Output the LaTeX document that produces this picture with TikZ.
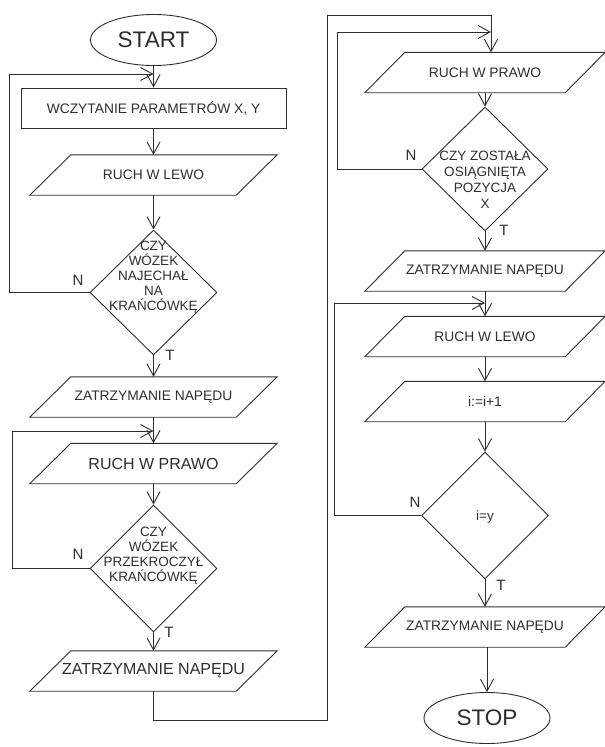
\documentclass[tikz,border=0pt]{standalone}
\usepackage{fontspec}
\setmainfont{Liberation Sans}
\usetikzlibrary{arrows.meta,shapes.geometric}
\definecolor{ink}{RGB}{45,45,45}
% outline of an input/output block drawn around a rectangle node
\newcommand\ioframe[2]{\draw[wire] ([xshift=#2]#1.north west) -- ([xshift=#2]#1.north east)
  -- ([xshift=-#2]#1.south east) -- ([xshift=-#2]#1.south west) -- cycle;}
\begin{document}
\begin{tikzpicture}[x=1pt,y=-1pt,
  wire/.style={draw=ink,line width=0.9pt},
  arr/.style={wire,-{Straight Barb[length=12pt,width=13pt]}},
  term/.style={ellipse,wire,minimum width=126pt,minimum height=51pt,inner sep=0pt,
    text=ink,font=\fontsize{22.5}{26}\selectfont},
  proc/.style={rectangle,wire,minimum width=265pt,minimum height=40pt,inner sep=0pt,
    text=ink,font=\fontsize{13.8}{16}\selectfont},
  io/.style={rectangle,minimum height=40pt,inner sep=0pt,text=ink,
    font=\fontsize{13.8}{16}\selectfont},
  iol/.style={io,minimum width=206pt},
  ior/.style={io,minimum width=200pt},
  big/.style={font=\fontsize{16}{19}\selectfont},
  dec/.style={diamond,wire,minimum width=127pt,minimum height=125pt,inner sep=0pt},
  dtext/.style={align=center,text=ink,inner sep=0pt,font=\fontsize{13.5}{15}\selectfont},
  lbl/.style={text=ink,inner sep=0pt,font=\fontsize{15}{18}\selectfont}]
\useasboundingbox (0,0) rectangle (605,747);

% ---- left column
\node[term] (start) at (153.5,40) {START};
\node[proc] (r1) at (153.5,108) {WCZYTANIE PARAMETRÓW X, Y};
\node[iol] (p1) at (153.5,175) {RUCH W LEWO}; \ioframe{p1}{20.5pt}
\node[dec] (d1) at (153.5,292.5) {};
\node[dtext] (d1t) at ([yshift=15pt]d1.center) {CZY\\WÓZEK\\NAJECHAŁ\\NA\\KRAŃCÓWKĘ};
\node[iol] (p2) at (153.5,397) {ZATRZYMANIE NAPĘDU}; \ioframe{p2}{20.5pt}
\node[iol,big] (p3) at (153.5,463.5) {RUCH W PRAWO}; \ioframe{p3}{20.5pt}
\node[dec,minimum height=127pt] (d2) at (153.5,568.5) {};
\node[dtext] (d2t) at ([yshift=13pt]d2.center) {CZY\\WÓZEK\\PRZEKROCZYŁ\\KRAŃCÓWKĘ};
\node[iol,big] (p4) at (153.5,671) {ZATRZYMANIE NAPĘDU}; \ioframe{p4}{20.5pt}

% ---- right column
\node[ior] (q1) at (485,72.5) {RUCH W PRAWO}; \ioframe{q1}{20pt}
\node[dec,minimum width=126pt,minimum height=124pt] (d3) at (485,169) {};
\node[dtext,font=\fontsize{13.5}{16}\selectfont] (d3t) at ([yshift=-11pt]d3.center)
  {CZY ZOSTAŁA\\OSIĄGNIĘTA\\POZYCJA\\X};
\node[ior] (q2) at (485,271) {ZATRZYMANIE NAPĘDU}; \ioframe{q2}{20pt}
\node[ior] (q3) at (485,336.5) {RUCH W LEWO}; \ioframe{q3}{20pt}
\node[ior] (q4) at (485,401.5) {i:=i+1}; \ioframe{q4}{20pt}
\node[dec,minimum height=127pt] (d4) at (485,515.5) {};
\node[dtext] (d4t) at ([yshift=-2pt]d4.center) {i=y};
\node[ior] (q5) at (485,627) {ZATRZYMANIE NAPĘDU}; \ioframe{q5}{20pt}
\node[term] (stop) at (487,718) {STOP};

% ---- branch labels
\node[lbl] (n1) at (78,280) {N};
\node[lbl] (t1) at (170,355) {T};
\node[lbl] (n2) at (78,554) {N};
\node[lbl] (t2) at (169,632) {T};
\node[lbl] (n3) at (411,155) {N};
\node[lbl] (t3) at (504,230) {T};
\node[lbl] (n4) at (415,502) {N};
\node[lbl] (t4) at (501,585) {T};

% ---- junction points
\coordinate (j1) at (153.5,74);
\coordinate (j2) at (153.5,431);
\coordinate (j3) at (491,32);
\coordinate (j4) at (485,303);
\coordinate (c1) at (327,720);
\coordinate (c2) at (491,15);

% ---- main flow
\draw[arr] (start) -- (r1);
\draw[arr] (r1) -- (p1);
\draw[arr] (p1) -- (d1);
\draw[arr] (d1) -- (p2);
\draw[arr] (p2) -- (p3);
\draw[arr] (p3) -- (d2);
\draw[arr] (d2) -- (p4);
\draw[arr] (p4.south) |- (c1) |- (c2) -- (c2 |- q1.north);
\draw[arr] (q1) -- (d3);
\draw[arr] (d3) -- (q2);
\draw[arr] (q2) -- (q3);
\draw[arr] (q3) -- (q4);
\draw[arr] (q4) -- (d4);
\draw[arr] (d4) -- (q5);
\draw[arr] (stop.north |- q5.south) -- (stop.north);

% ---- loops back on "N"
\draw[arr] (d1.west) -- ++(-80,0) |- (j1);
\draw[arr] (d2.west) -- ++(-77,0) |- (j2);
\draw[arr] (d3.west) -- ++(-84,0) |- (j3);
\draw[arr] (d4.west) -- ++(-87,0) |- (j4);
\end{tikzpicture}
\end{document}
